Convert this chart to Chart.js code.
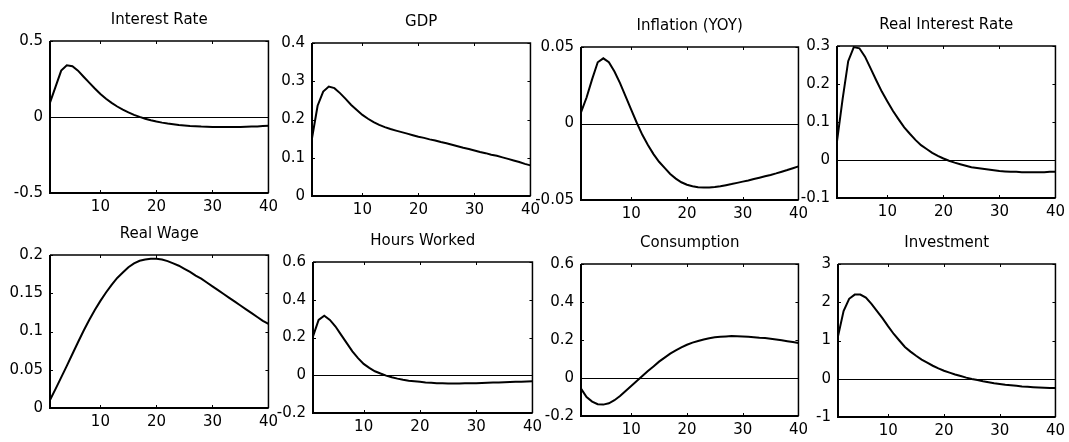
<!DOCTYPE html>
<html>
<head>
<meta charset="utf-8">
<title>Impulse responses</title>
<script src="https://cdn.jsdelivr.net/npm/chart.js@4/dist/chart.umd.min.js"></script>
<style>
  body { margin: 0; background: #fff; }
  #wrap { position: relative; width: 1069px; height: 442px; overflow: hidden; }
  #wrap canvas { position: absolute; }
</style>
</head>
<body>
<div id="wrap"></div>
<script>
// horizonte (trimestres)
const periods = [1, 2, 3, 4, 5, 6, 7, 8, 9, 10, 11, 12, 13, 14, 15, 16, 17, 18, 19, 20,
                 21, 22, 23, 24, 25, 26, 27, 28, 29, 30, 31, 32, 33, 34, 35, 36, 37, 38, 39, 40];
const xTicks = [10, 20, 30, 40];

// respostas de cada variavel
const interestRate = [0.095, 0.2, 0.305, 0.34, 0.334, 0.305, 0.265, 0.226, 0.188, 0.152,
  0.12, 0.093, 0.069, 0.048, 0.03, 0.014, 0.001, -0.011, -0.021, -0.03,
  -0.037, -0.043, -0.048, -0.053, -0.056, -0.059, -0.061, -0.063, -0.064, -0.065,
  -0.066, -0.066, -0.066, -0.066, -0.065, -0.064, -0.063, -0.062, -0.06, -0.058];
const gdp = [0.151, 0.236, 0.273, 0.286, 0.282, 0.269, 0.254, 0.238, 0.225, 0.212,
  0.202, 0.193, 0.186, 0.18, 0.175, 0.171, 0.167, 0.163, 0.159, 0.155,
  0.152, 0.148, 0.145, 0.141, 0.138, 0.134, 0.13, 0.126, 0.123, 0.119,
  0.115, 0.112, 0.108, 0.105, 0.101, 0.097, 0.093, 0.089, 0.084, 0.08];
const inflation = [0.0072, 0.017, 0.029, 0.04, 0.0426, 0.04, 0.034, 0.0264, 0.0177, 0.009,
  0.0005, -0.0074, -0.014, -0.02, -0.025, -0.029, -0.033, -0.036, -0.0384, -0.04,
  -0.041, -0.0417, -0.0419, -0.0418, -0.0415, -0.041, -0.0403, -0.0396, -0.0388, -0.038,
  -0.0372, -0.0363, -0.0354, -0.0345, -0.0336, -0.0326, -0.0315, -0.0304, -0.0292, -0.028];
const realRate = [0.049, 0.16, 0.26, 0.297, 0.294, 0.272, 0.241, 0.21, 0.18, 0.154,
  0.129, 0.107, 0.086, 0.069, 0.053, 0.039, 0.029, 0.019, 0.011, 0.004,
  -0.002, -0.007, -0.011, -0.015, -0.019, -0.021, -0.023, -0.025, -0.027, -0.029,
  -0.03, -0.031, -0.031, -0.032, -0.032, -0.032, -0.032, -0.032, -0.031, -0.031];
const realWage = [0.0105, 0.025, 0.04, 0.055, 0.0706, 0.086, 0.101, 0.115, 0.128, 0.14,
  0.151, 0.161, 0.17, 0.177, 0.184, 0.189, 0.1925, 0.194, 0.195, 0.195,
  0.194, 0.192, 0.189, 0.186, 0.182, 0.178, 0.173, 0.169, 0.164, 0.159,
  0.154, 0.149, 0.144, 0.139, 0.134, 0.129, 0.124, 0.119, 0.114, 0.11];
const hours = [0.206, 0.293, 0.315, 0.293, 0.258, 0.214, 0.17, 0.127, 0.091, 0.06,
  0.039, 0.021, 0.009, -0.002, -0.011, -0.018, -0.024, -0.029, -0.032, -0.035,
  -0.038, -0.04, -0.042, -0.043, -0.044, -0.044, -0.044, -0.043, -0.043, -0.042,
  -0.041, -0.04, -0.039, -0.038, -0.037, -0.036, -0.035, -0.034, -0.033, -0.032];
const consumption = [-0.056, -0.1, -0.124, -0.138, -0.14, -0.133, -0.117, -0.095, -0.068, -0.042,
  -0.016, 0.011, 0.037, 0.061, 0.086, 0.107, 0.128, 0.145, 0.161, 0.175,
  0.186, 0.195, 0.203, 0.209, 0.214, 0.217, 0.219, 0.221, 0.22, 0.219,
  0.217, 0.215, 0.212, 0.21, 0.207, 0.203, 0.199, 0.194, 0.189, 0.184];
const investment = [1.11, 1.77, 2.09, 2.2, 2.2, 2.12, 1.96, 1.77, 1.58, 1.37,
  1.17, 1.0, 0.83, 0.71, 0.6, 0.5, 0.42, 0.34, 0.27, 0.21,
  0.16, 0.11, 0.07, 0.03, -0.005, -0.035, -0.065, -0.09, -0.115, -0.135,
  -0.155, -0.17, -0.185, -0.2, -0.21, -0.22, -0.228, -0.235, -0.24, -0.245];

// ticks do eixo y de cada painel
const yTicksInterest = [-0.5, 0, 0.5];
const yTicksGdp = [0, 0.1, 0.2, 0.3, 0.4];
const yTicksInflation = [-0.05, 0, 0.05];
const yTicksRealRate = [-0.1, 0, 0.1, 0.2, 0.3];
const yTicksWage = [0, 0.05, 0.1, 0.15, 0.2];
const yTicksHours = [-0.2, 0, 0.2, 0.4, 0.6];
const yTicksConsumption = [-0.2, 0, 0.2, 0.4, 0.6];
const yTicksInvestment = [-1, 0, 1, 2, 3];

const titles = ['Interest Rate', 'GDP', 'Inflation (YOY)', 'Real Interest Rate',
                'Real Wage', 'Hours Worked', 'Consumption', 'Investment'];

Chart.defaults.font.family = '"DejaVu Sans", sans-serif';
Chart.defaults.font.size = 15;
Chart.defaults.color = '#000';

// caixa de cada painel (posicao da area do grafico na janela)
const boxes = [
  { l: 50, t: 41, r: 271, b: 193 },
  { l: 312, t: 43, r: 533, b: 196 },
  { l: 581, t: 47, r: 801, b: 200 },
  { l: 837, t: 46, r: 1058, b: 198 },
  { l: 50, t: 255, r: 271, b: 408 },
  { l: 313, t: 262, r: 535, b: 413 },
  { l: 581, t: 264, r: 801, b: 416 },
  { l: 838, t: 264, r: 1058, b: 417 }
];

// moldura estilo matlab: caixa, ticks para dentro, linha do zero e titulo
const frame = {
    id: 'frame',
    beforeDatasetsDraw(chart) {
        const { ctx, chartArea: a, scales: { y } } = chart;
        if (y.min < 0) {
            const py = Math.round(y.getPixelForValue(0)) + 0.5;
            ctx.save();
            ctx.strokeStyle = '#000';
            ctx.lineWidth = 1;
            ctx.beginPath();
            ctx.moveTo(a.left, py);
            ctx.lineTo(a.right, py);
            ctx.stroke();
            ctx.restore();
        }
    },
    afterDraw(chart, args, opts) {
        const { ctx, chartArea: a, scales: { x, y } } = chart;
        const tl = 3;
        ctx.save();
        ctx.strokeStyle = '#000';
        ctx.lineWidth = 1;
        ctx.beginPath();
        x.ticks.forEach(t => {
            const px = Math.round(x.getPixelForValue(t.value)) + 0.5;
            ctx.moveTo(px, a.bottom); ctx.lineTo(px, a.bottom - tl);
            ctx.moveTo(px, a.top); ctx.lineTo(px, a.top + tl);
        });
        y.ticks.forEach(t => {
            const py = Math.round(y.getPixelForValue(t.value)) + 0.5;
            ctx.moveTo(a.left, py); ctx.lineTo(a.left + tl, py);
            ctx.moveTo(a.right, py); ctx.lineTo(a.right - tl, py);
        });
        ctx.stroke();
        // eixos esquerdo/inferior um pouco mais grossos
        ctx.lineWidth = 2;
        ctx.beginPath();
        ctx.moveTo(a.left, a.top);
        ctx.lineTo(a.left, a.bottom);
        ctx.lineTo(a.right, a.bottom);
        ctx.stroke();
        ctx.lineWidth = 1.5;
        ctx.beginPath();
        ctx.moveTo(a.left, a.top);
        ctx.lineTo(a.right, a.top);
        ctx.lineTo(a.right, a.bottom);
        ctx.stroke();
        ctx.fillStyle = '#000';
        ctx.font = '15px "DejaVu Sans", sans-serif';
        ctx.textAlign = 'center';
        ctx.textBaseline = 'middle';
        ctx.fillText(opts.title, (a.left + a.right) / 2, a.top - 21);
        ctx.restore();
    }
};

function makePanel(box, title, values, yTicks) {
    const padL = 50, padT = 40, padR = 12, padB = 30;
    const cv = document.createElement('canvas');
    cv.width = box.r - box.l + padL + padR;
    cv.height = box.b - box.t + padT + padB;
    cv.style.left = (box.l - padL) + 'px';
    cv.style.top = (box.t - padT) + 'px';
    document.getElementById('wrap').appendChild(cv);

    new Chart(cv.getContext('2d'), {
        type: 'line',
        data: {
            datasets: [{
                data: values.map((v, i) => ({ x: periods[i], y: v })),
                borderColor: '#000',
                borderWidth: 2,
                pointRadius: 0,
                tension: 0,
                fill: false
            }]
        },
        options: {
            responsive: false,
            animation: false,
            events: [],
            layout: { padding: { top: padT, right: padR, left: 0, bottom: 0 } },
            plugins: {
                legend: { display: false },
                tooltip: { enabled: false },
                frame: { title: title }
            },
            scales: {
                x: {
                    type: 'linear',
                    min: periods[0],
                    max: periods[periods.length - 1],
                    grid: { display: false, drawTicks: false },
                    border: { display: false },
                    ticks: { padding: 5, maxRotation: 0, autoSkip: false, callback: v => String(v) },
                    afterBuildTicks: s => { s.ticks = xTicks.map(v => ({ value: v })); },
                    afterFit: s => { s.height = padB; }
                },
                y: {
                    min: yTicks[0],
                    max: yTicks[yTicks.length - 1],
                    grid: { display: false, drawTicks: false },
                    border: { display: false },
                    ticks: { padding: 7, autoSkip: false, callback: v => String(v) },
                    afterBuildTicks: s => { s.ticks = yTicks.map(v => ({ value: v })); },
                    afterFit: s => { s.width = padL; }
                }
            }
        },
        plugins: [frame]
    });
}

document.addEventListener('DOMContentLoaded', function () {
    const series = [interestRate, gdp, inflation, realRate, realWage, hours, consumption, investment];
    const yTicks = [yTicksInterest, yTicksGdp, yTicksInflation, yTicksRealRate,
                    yTicksWage, yTicksHours, yTicksConsumption, yTicksInvestment];
    for (let i = 0; i < 8; i++) {
        makePanel(boxes[i], titles[i], series[i], yTicks[i]);
    }
});
</script>
</body>
</html>
